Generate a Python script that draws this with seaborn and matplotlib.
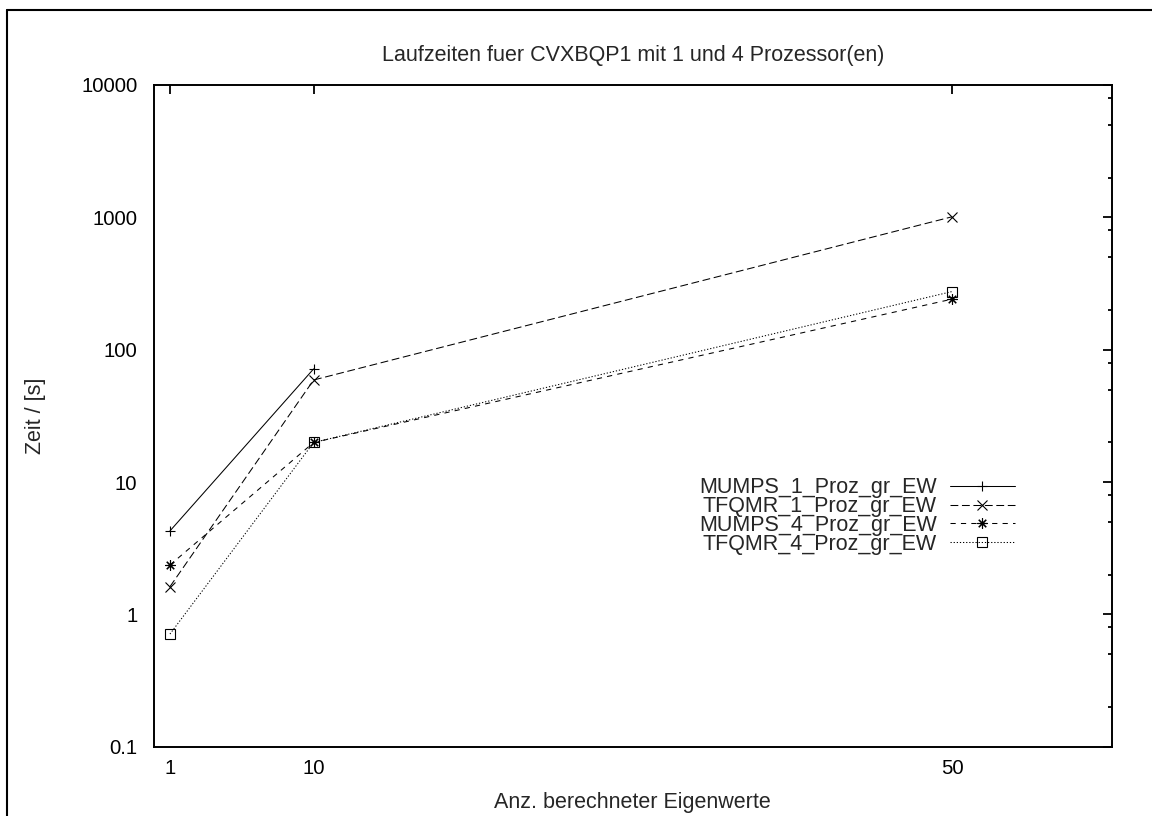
import numpy as np
import pandas as pd
import matplotlib
matplotlib.use("Agg")
import matplotlib.pyplot as plt
from matplotlib.lines import Line2D
from matplotlib.ticker import FixedLocator, NullLocator, FixedFormatter
import seaborn as sns

# Number of computed eigenvalues
eigen_counts = [1, 10, 50]

# Runtimes in seconds (NaN = no measurement)
mumps_1 = [4.27, 71.6, np.nan]
tfqmr_1 = [1.62, 59.0, 1010.0]
mumps_4 = [2.36, 19.9, 241.0]
tfqmr_4 = [0.71, 19.9, 275.0]

series_names = ["MUMPS_1_Proz_gr_EW", "TFQMR_1_Proz_gr_EW",
                "MUMPS_4_Proz_gr_EW", "TFQMR_4_Proz_gr_EW"]
series_values = [mumps_1, tfqmr_1, mumps_4, tfqmr_4]

y_ticks = [0.1, 1, 10, 100, 1000, 10000]
y_tick_labels = ["0.1", "1", "10", "100", "1000", "10000"]

title_text = "Laufzeiten fuer CVXBQP1 mit 1 und 4 Prozessor(en)"
x_label = "Anz. berechneter Eigenwerte"
y_label = "Zeit / [s]"

sns.set_style("white")
plt.rcParams["font.family"] = ["Liberation Sans", "DejaVu Sans"]
plt.rcParams["font.size"] = 14.6

TEXT_SIZE = 15.5
TICK_SIZE = 14.6

frames = []
for name, vals in zip(series_names, series_values):
    frames.append(pd.DataFrame({"n": eigen_counts, "t": vals, "series": name}))
df = pd.concat(frames, ignore_index=True).dropna()

lw = 0.75
styles = {
    "MUMPS_1_Proz_gr_EW": dict(marker="+", linestyle="-", markersize=7.5),
    "TFQMR_1_Proz_gr_EW": dict(marker="x", linestyle=(0, (7.5, 3.5)), markersize=7.0),
    "MUMPS_4_Proz_gr_EW": dict(marker=(8, 2, 0), linestyle=(0, (5, 5)), markersize=7.5),
    "TFQMR_4_Proz_gr_EW": dict(marker="s", linestyle=(0, (1.2, 1.8)), markersize=7.0,
                               markerfacecolor="none"),
}

fig = plt.figure(figsize=(11.52, 8.16), dpi=100)
ax = fig.add_axes([154 / 1152, 1 - 746.7 / 816, (1111.7 - 154) / 1152, (746.7 - 85) / 816])

for name in series_names:
    sub = df[df["series"] == name]
    sns.lineplot(data=sub, x="n", y="t", ax=ax, color="black", linewidth=lw,
                 markeredgecolor="black", markeredgewidth=0.8, label=name,
                 **styles[name])

ax.set_yscale("log")
ax.set_xlim(0, 60)
ax.set_ylim(0.1, 10000)

ax.xaxis.set_major_locator(FixedLocator(eigen_counts))
ax.xaxis.set_minor_locator(NullLocator())
ax.yaxis.set_major_locator(FixedLocator(y_ticks))
ax.yaxis.set_major_formatter(FixedFormatter(y_tick_labels))
minors = [m * 10.0 ** k for k in range(-1, 4) for m in (2, 5, 8)]
ax.yaxis.set_minor_locator(FixedLocator(minors))
ax.yaxis.set_minor_formatter(FixedFormatter([""] * len(minors)))

ax.tick_params(which="both", direction="in", top=True, right=True,
               color="black", labelcolor="black", labelsize=TICK_SIZE)
ax.tick_params(which="major", length=6.5, width=1.3)
ax.tick_params(which="minor", length=3.2, width=1.3)
ax.tick_params(axis="y", which="major", pad=12)
ax.tick_params(axis="x", which="major", pad=9)

for sp in ax.spines.values():
    sp.set_visible(True)
    sp.set_color("black")
    sp.set_linewidth(1.4)

ax.set_title(title_text, fontsize=TEXT_SIZE, pad=17)
ax.set_xlabel(x_label, fontsize=TEXT_SIZE)
ax.set_ylabel(y_label, fontsize=TEXT_SIZE)
ax.xaxis.set_label_coords(0.5, -0.0836)
ax.xaxis.label.set_va("center")
ax.yaxis.set_label_coords(-0.124, 0.5)
ax.yaxis.label.set_va("center")

handles, labels = ax.get_legend_handles_labels()
leg = ax.legend(handles, labels, loc="center right",
                bbox_to_anchor=((1015 - 154) / 957.7, (746.7 - 516) / 661.7),
                markerfirst=False, frameon=False, borderpad=0, borderaxespad=0,
                handlelength=3.04, handletextpad=0.6, labelspacing=-0.1,
                fontsize=TEXT_SIZE)

# Frame around the whole figure
fig.add_artist(Line2D([7 / 1152, 7 / 1152], [0, 1 - 10 / 816],
                      transform=fig.transFigure, color="black", lw=1.5))
fig.add_artist(Line2D([7 / 1152, 1], [1 - 10 / 816, 1 - 10 / 816],
                      transform=fig.transFigure, color="black", lw=1.5))

fig.savefig("out.png", dpi=100, facecolor="white")
